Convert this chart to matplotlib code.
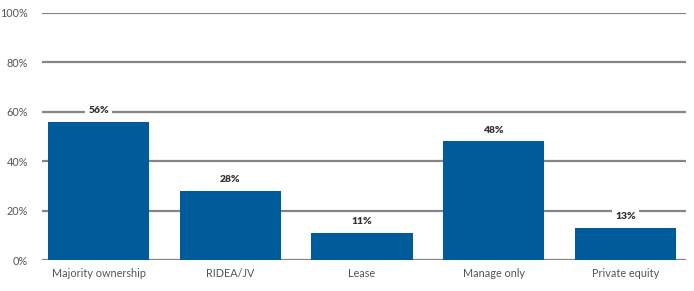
import matplotlib
matplotlib.use("Agg")
import matplotlib.pyplot as plt
from matplotlib.ticker import FuncFormatter

categories = ["Majority ownership", "RIDEA/JV", "Lease", "Manage only", "Private equity"]
values = [56, 28, 11, 48, 13]
yticks = [0, 20, 40, 60, 80, 100]

plt.rcParams['font.family'] = ['Lato', 'DejaVu Sans']

fig = plt.figure(figsize=(6.94, 2.91), dpi=100)
ax = fig.add_axes([0.0605, 0.1065, 0.928, 0.849])

x = list(range(len(categories)))
ax.bar(x, values, width=0.77, color="#005b9a", zorder=3)
for xi, v in zip(x, values):
    ax.annotate(f"{v}%", (xi, v), xytext=(0, 8), textcoords="offset points",
                ha="center", va="center", fontsize=7.5, fontweight="heavy", color="#333333",
                bbox=dict(boxstyle="square,pad=0.3", fc="white", ec="none"), zorder=4)

ax.set_xlim(-0.43, 4.46)
ax.set_ylim(0, 100)
ax.set_yticks(yticks)
ax.yaxis.set_major_formatter(FuncFormatter(lambda v, p: f"{int(v)}%"))
ax.set_xticks(x)
ax.set_xticklabels(categories)
ax.grid(axis="y", color="#858585", linewidth=1.6, zorder=0)
ax.tick_params(axis="both", length=0, labelsize=7.8, labelcolor="#555555")
ax.tick_params(axis="y", pad=10)
ax.tick_params(axis="x", pad=6)
for s in ax.spines.values():
    s.set_visible(False)

fig.savefig("out.png", dpi=100)
